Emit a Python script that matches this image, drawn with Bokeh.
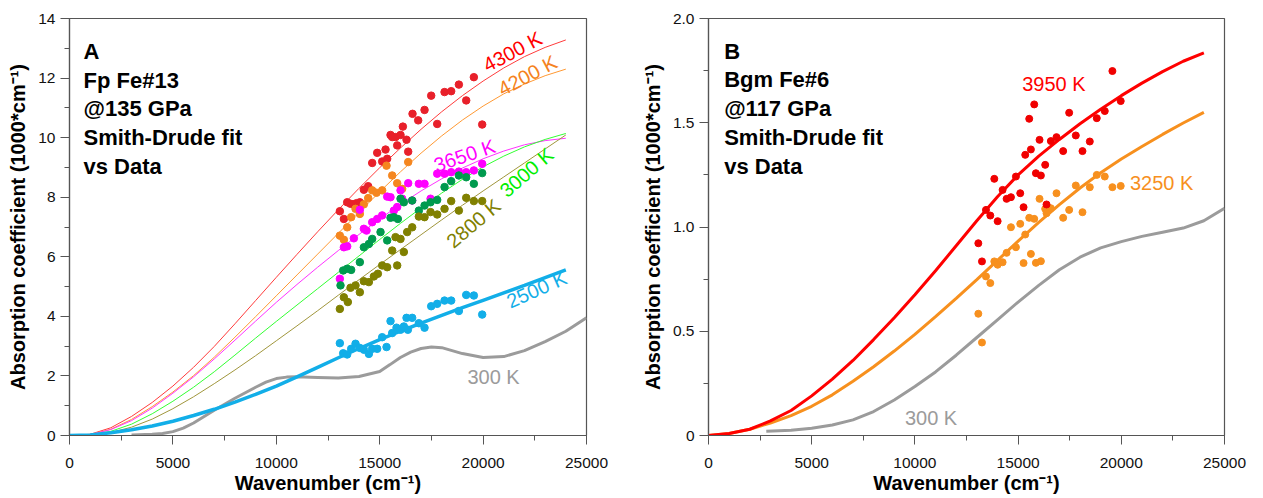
import math
from bokeh.plotting import figure
from bokeh.models import Range1d, FixedTicker, Label, NumeralTickFormatter
from bokeh.layouts import row
from bokeh.embed import file_html
from bokeh.resources import INLINE

FONT = "Liberation Sans"

# ---------------- data ----------------
# common wavenumber grid of the fitted curves (cm-1)
wn_fit = [0, 1000, 2000, 3000, 4000, 5000, 6000, 7000, 8000, 9000, 10000, 11000, 12000,
          13000, 14000, 15000, 16000, 17000, 18000, 19000, 20000, 21000, 22000, 23000, 24000]

# Panel A: Smith-Drude fits (1000*cm-1)
a_fit_4300 = [0, 0.04, 0.26, 0.64, 1.11, 1.66, 2.29, 2.99, 3.75, 4.53, 5.31, 6.08, 6.84,
              7.58, 8.30, 8.99, 9.65, 10.28, 10.87, 11.41, 11.90, 12.34, 12.72, 13.03, 13.28]
a_fit_4200 = [0, 0.03, 0.21, 0.54, 0.97, 1.46, 2.01, 2.63, 3.30, 3.99, 4.69, 5.39, 6.09,
              6.79, 7.49, 8.18, 8.85, 9.48, 10.06, 10.59, 11.06, 11.47, 11.80, 12.08, 12.30]
a_fit_3650 = [0, 0.03, 0.2, 0.5, 0.92, 1.42, 1.97, 2.57, 3.2, 3.84, 4.47, 5.07, 5.65,
              6.21, 6.75, 7.27, 7.76, 8.21, 8.62, 8.98, 9.29, 9.55, 9.76, 9.90, 9.98]
a_fit_3000 = [0, 0.02, 0.14, 0.38, 0.73, 1.15, 1.62, 2.14, 2.70, 3.27, 3.83, 4.38, 4.93,
              5.48, 6.03, 6.58, 7.12, 7.64, 8.14, 8.60, 9.02, 9.38, 9.69, 9.94, 10.14]
a_fit_2800 = [0, 0.02, 0.1, 0.28, 0.55, 0.9, 1.3, 1.74, 2.2, 2.68, 3.18, 3.68, 4.19,
              4.71, 5.23, 5.74, 6.24, 6.74, 7.24, 7.73, 8.21, 8.68, 9.15, 9.62, 10.09]
a_fit_2500 = [0, 0.02, 0.09, 0.19, 0.32, 0.48, 0.67, 0.88, 1.12, 1.38, 1.66, 1.97, 2.29,
              2.61, 2.92, 3.22, 3.50, 3.77, 4.03, 4.29, 4.54, 4.79, 5.04, 5.30, 5.56]
a_300_x = [3000, 4000, 4500, 5000, 5500, 6000, 7000, 8000, 9000, 9500, 10000, 10500, 11000,
           12000, 13000, 14000, 15000, 15500, 16000, 16500, 17000, 17500, 18000, 19000, 20000,
           21000, 22000, 23000, 24000, 25000]
a_300_y = [0.02, 0.04, 0.07, 0.13, 0.25, 0.42, 0.85, 1.25, 1.62, 1.79, 1.91, 1.96, 1.97,
           1.95, 1.93, 1.98, 2.15, 2.38, 2.62, 2.80, 2.92, 2.97, 2.95, 2.75, 2.62,
           2.65, 2.85, 3.15, 3.5, 3.95]

# Panel A: measured data
a_4300_x = [13073, 13267, 13428, 13589, 13750, 13879, 14040, 14234, 14443, 14637, 14879, 15120,
            15282, 15362, 15523, 15604, 15765, 15846, 16007, 16120, 16297, 16378, 16587, 16861,
            17168, 17490, 17780, 18135, 18457, 18828, 19183, 19553, 19956]
a_4300_y = [7.53, 7.27, 7.83, 7.78, 7.76, 7.80, 7.83, 8.25, 8.37, 9.15, 9.49, 9.20,
            9.60, 9.29, 10.09, 10.02, 10.02, 9.74, 10.09, 10.37, 9.93, 9.53, 10.80, 10.58,
            10.93, 11.41, 10.46, 11.53, 11.56, 11.78, 11.25, 12.03, 10.44]
a_4200_x = [13073, 13267, 13428, 13621, 13831, 14040, 14234, 14443, 14637, 14846, 15120, 15330,
            15604, 15846, 16088, 16378]
a_4200_y = [6.71, 6.57, 6.99, 7.33, 7.61, 7.44, 7.76, 7.97, 8.23, 8.15, 8.23, 9.06,
            8.73, 8.47, 8.28, 9.18]
a_3650_x = [13073, 13267, 13428, 13750, 14040, 14234, 14363, 14637, 14879, 15120, 15362, 15523,
            15684, 15846, 16007, 16088, 16378, 16571, 16893, 17168, 17458, 17780, 18135, 18457,
            18828, 19183, 19553, 19956]
a_3650_y = [5.26, 6.32, 6.35, 6.62, 7.58, 6.94, 6.88, 7.16, 7.27, 7.39, 8.02, 8.00,
            7.55, 7.67, 8.23, 7.95, 8.47, 7.89, 8.45, 8.45, 7.95, 8.79, 8.79, 8.84,
            8.86, 8.84, 8.90, 9.12]
a_3000_x = [13105, 13234, 13428, 13621, 14040, 14234, 14476, 14637, 15040, 15362, 15523, 15684,
            15878, 16007, 16168, 16571, 16893, 17168, 17458, 17780, 18135, 18457, 18828, 19183,
            19553, 19956]
a_3000_y = [5.04, 5.54, 5.60, 5.56, 5.82, 6.32, 6.43, 6.60, 6.83, 6.55, 7.31, 7.33,
            7.27, 7.95, 7.83, 7.89, 7.55, 7.72, 7.83, 7.91, 8.34, 8.54, 8.73, 8.67,
            8.45, 8.81]
a_2800_x = [13073, 13267, 13460, 13589, 13831, 14040, 14234, 14476, 14718, 14912, 15120, 15362,
            15604, 15765, 15846, 16007, 16168, 16329, 16571, 16893, 17168, 17458, 17780, 18135,
            18457, 18828, 19183, 19553, 19956]
a_2800_y = [4.25, 4.64, 4.48, 4.96, 5.04, 4.81, 5.18, 5.15, 5.34, 5.43, 5.71, 5.65,
            6.21, 6.66, 5.71, 6.60, 6.16, 6.83, 6.99, 7.35, 7.33, 7.50, 7.42, 7.61,
            7.87, 7.55, 7.98, 7.87, 7.87]
a_2500_x = [13073, 13234, 13428, 13621, 13831, 14040, 14234, 14476, 14637, 14879, 15120, 15330,
            15523, 15604, 15813, 16007, 16168, 16362, 16297, 16571, 16893, 17168, 17490, 17780,
            18135, 18457, 18828, 19183, 19553, 19956]
a_2500_y = [3.10, 2.76, 2.72, 2.91, 3.08, 2.94, 2.88, 2.74, 2.91, 2.91, 3.30, 2.97,
            3.84, 3.44, 3.62, 3.55, 3.66, 3.55, 3.95, 3.95, 3.77, 3.62, 4.34, 4.42,
            4.53, 4.53, 4.18, 4.72, 4.70, 4.06]

# Panel B: fits
b_fit_3950 = [0, 0.01, 0.03, 0.07, 0.12, 0.19, 0.27, 0.36, 0.46, 0.565, 0.675, 0.79, 0.91,
              1.03, 1.145, 1.25, 1.34, 1.42, 1.495, 1.565, 1.63, 1.69, 1.745, 1.795, 1.835]
b_fit_3250 = [0, 0.01, 0.03, 0.06, 0.095, 0.14, 0.195, 0.26, 0.33, 0.405, 0.485, 0.57, 0.658,
              0.748, 0.84, 0.932, 1.022, 1.107, 1.187, 1.26, 1.326, 1.386, 1.444, 1.499, 1.55]
b_300_x = [2800, 4000, 5000, 6000, 7000, 8000, 9000, 10000, 11000, 12000, 13000, 14000,
           15000, 16000, 17000, 18000, 19000, 20000, 21000, 22000, 23000, 24000, 25000]
b_300_y = [0.02, 0.025, 0.035, 0.05, 0.075, 0.115, 0.17, 0.235, 0.305, 0.385, 0.47, 0.555,
           0.64, 0.72, 0.795, 0.855, 0.9, 0.93, 0.955, 0.975, 0.995, 1.03, 1.09]

# Panel B: measured data
b_data_x = [13073, 13250, 13444, 13653, 13847, 14008, 14250, 14443, 14653, 14895, 15104, 15265,
            15346, 15539, 15620, 15781, 15862, 16104, 16039, 16313, 16378, 16587, 16861, 17183,
            17474, 17796, 18119, 18474, 18812, 19199, 19569, 19972]
b_3950_y = [0.922, 0.835, 1.082, 1.055, 1.231, 1.028, 1.178, 1.135, 1.143, 1.242, 1.162, 1.095,
            1.346, 1.519, 1.372, 1.588, 1.258, 1.247, 1.418, 1.298, 1.108, 1.412, 1.431, 1.364,
            1.548, 1.439, 1.364, 1.410, 1.522, 1.556, 1.748, 1.604]
b_3250_y = [0.584, 0.446, 0.763, 0.731, 0.835, 0.819, 0.831, 0.876, 0.999, 0.903, 1.015, 0.827,
            0.964, 1.044, 0.871, 1.039, 0.828, 0.836, 1.135, 1.087, 1.066, 1.090, 1.162, 1.044,
            1.082, 1.199, 1.071, 1.191, 1.250, 1.242, 1.191, 1.197]

# ticks
x_ticks = [0, 5000, 10000, 15000, 20000, 25000]
x_minor = [2500, 7500, 12500, 17500, 22500]
a_y_ticks = [0, 2, 4, 6, 8, 10, 12, 14]
a_y_minor = [1, 3, 5, 7, 9, 11, 13]
b_y_ticks = [0, 0.5, 1.0, 1.5, 2.0]
b_y_minor = [0.25, 0.75, 1.25, 1.75]

a_title_lines = ["A", "Fp Fe#13", "@135 GPa", "Smith-Drude fit", "vs Data"]
b_title_lines = ["B", "Bgm Fe#6", "@117 GPa", "Smith-Drude fit", "vs Data"]

X_LABEL = "Wavenumber (cm\u207b\u00b9)"
Y_LABEL = "Absorption coefficient (1000*cm\u207b\u00b9)"

AXC = "#555555"
FIG_H = 497


def make_fig(width, left, right, ymax, yticks, yminor):
    p = figure(width=width, height=FIG_H, output_backend="svg", toolbar_location=None,
               x_range=Range1d(0, 25000), y_range=Range1d(0, ymax),
               min_border_left=left, min_border_right=right,
               min_border_top=18, min_border_bottom=62)
    p.xgrid.visible = False
    p.ygrid.visible = False
    p.outline_line_color = AXC
    p.outline_line_width = 1.2
    p.xaxis.ticker = FixedTicker(ticks=x_ticks, minor_ticks=x_minor)
    p.yaxis.ticker = FixedTicker(ticks=yticks, minor_ticks=yminor)
    p.xaxis.axis_label = X_LABEL
    p.yaxis.axis_label = Y_LABEL
    for ax in (p.xaxis[0], p.yaxis[0]):
        ax.axis_line_color = AXC
        ax.axis_line_width = 1.2
        ax.major_tick_line_color = AXC
        ax.minor_tick_line_color = AXC
        ax.major_tick_out = 9
        ax.major_tick_in = 0
        ax.minor_tick_out = 5
        ax.minor_tick_in = 0
        ax.major_label_text_font = FONT
        ax.major_label_text_font_size = "15.5px"
        ax.major_label_text_color = "#111111"
        ax.axis_label_text_font = FONT
        ax.axis_label_text_font_style = "bold"
        ax.axis_label_text_font_size = "20px"
        ax.axis_label_text_color = "#000000"
    p.xaxis.major_label_standoff = 13
    p.xaxis.axis_label_standoff = 1
    p.yaxis.major_label_standoff = 5
    p.yaxis.axis_label_standoff = 6
    return p


def add_label(p, x, y, text, color, angle_deg=0.0):
    p.add_layout(Label(x=x, y=y, text=text, angle=math.radians(angle_deg),
                       text_align="center", text_baseline="middle",
                       text_font=FONT, text_font_size="20px", text_color=color))


def add_title(p, x, y0, step, lines):
    for i, t in enumerate(lines):
        p.add_layout(Label(x=x, y=y0 - i * step, text=t, text_align="left",
                           text_baseline="alphabetic", text_font=FONT,
                           text_font_style="bold", text_font_size="22px",
                           text_color="#000000"))


# ---------------- Panel A ----------------
pa = make_fig(638, 69, 52, 14, a_y_ticks, a_y_minor)

pa.line(wn_fit, a_fit_4300, line_color="#FF3B3B", line_width=1)
pa.line(wn_fit, a_fit_4200, line_color="#FF9933", line_width=1)
pa.line(wn_fit, a_fit_3650, line_color="#FF33FF", line_width=1)
pa.line(wn_fit, a_fit_3000, line_color="#33FF33", line_width=1)
pa.line(wn_fit, a_fit_2800, line_color="#A0963C", line_width=1)
pa.line(a_300_x, a_300_y, line_color="#9B9B9B", line_width=3)
pa.line(wn_fit, a_fit_2500, line_color="#12AEE8", line_width=3.5)

pa.scatter(a_4300_x, a_4300_y, size=7.5, color="#E8202A")
pa.scatter(a_4200_x, a_4200_y, size=7.5, color="#F5861F")
pa.scatter(a_3650_x, a_3650_y, size=7.5, color="#FF00FF")
pa.scatter(a_3000_x, a_3000_y, size=7.5, color="#009A4E")
pa.scatter(a_2800_x, a_2800_y, size=7.5, color="#808000")
pa.scatter(a_2500_x, a_2500_y, size=7.5, color="#12AEE8")

add_label(pa, 21423, 12.89, "4300 K", "#FF0000", 28)
add_label(pa, 22149, 12.09, "4200 K", "#F58220", 28)
add_label(pa, 19102, 9.40, "3650 K", "#FF00FF", 19)
add_label(pa, 22100, 8.83, "3000 K", "#00EE00", 41)
add_label(pa, 19537, 7.12, "2800 K", "#808000", 40)
add_label(pa, 22584, 4.90, "2500 K", "#12AEE8", 24)
add_label(pa, 20504, 1.98, "300 K", "#9B9B9B", 0)

add_title(pa, 677, 12.89, 0.963, a_title_lines)

# ---------------- Panel B ----------------
pb = make_fig(622, 69, 36, 2.0, b_y_ticks, b_y_minor)
pb.yaxis.formatter = NumeralTickFormatter(format="0.0")
pb.yaxis.major_label_overrides = {0: "0"}

pb.line(b_300_x, b_300_y, line_color="#9B9B9B", line_width=3)
pb.line(wn_fit, b_fit_3250, line_color="#F7901E", line_width=3)
pb.line(wn_fit, b_fit_3950, line_color="#FF0000", line_width=3)

pb.scatter(b_data_x, b_3250_y, size=7, color="#F7901E")
pb.scatter(b_data_x, b_3950_y, size=7, color="#F00000")

add_label(pb, 16731, 1.688, "3950 K", "#FF0000", 0)
add_label(pb, 21954, 1.209, "3250 K", "#F7901E", 0)
add_label(pb, 10783, 0.086, "300 K", "#9B9B9B", 0)

add_title(pb, 759, 1.843, 0.1378, b_title_lines)

layout = row(pa, pb)
open("out.html", "w").write(file_html(layout, INLINE))
